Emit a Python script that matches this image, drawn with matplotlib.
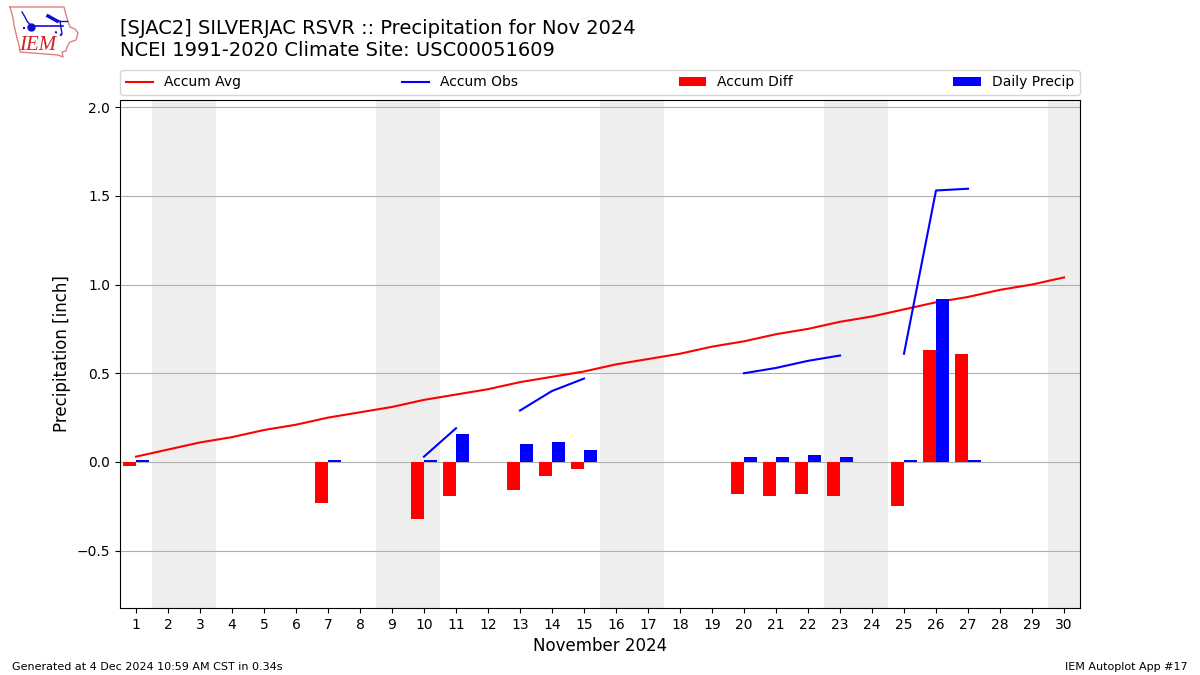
import numpy as np
import matplotlib
matplotlib.use('Agg')
import matplotlib.pyplot as plt

days = np.arange(1, 31)
avg_accum = [0.03, 0.07, 0.11, 0.14, 0.18, 0.21, 0.25, 0.28, 0.31, 0.35,
             0.38, 0.41, 0.45, 0.48, 0.51, 0.55, 0.58, 0.61, 0.65, 0.68,
             0.72, 0.75, 0.79, 0.82, 0.86, 0.90, 0.93, 0.97, 1.00, 1.04]
# obs line has gaps on the dry days
nan = np.nan
obs_accum = [nan, nan, nan, nan, nan, nan, nan, nan, nan, 0.03,
             0.19, nan, 0.29, 0.40, 0.47, nan, nan, nan, nan, 0.50,
             0.53, 0.57, 0.60, nan, 0.61, 1.53, 1.54, nan, nan, nan]
accum_diff = [-0.02, 0, 0, 0, 0, 0, -0.23, 0, 0, -0.32,
              -0.19, 0, -0.16, -0.08, -0.04, 0, 0, 0, 0, -0.18,
              -0.19, -0.18, -0.19, 0, -0.25, 0.63, 0.61, 0, 0, 0]
daily_precip = [0.01, 0, 0, 0, 0, 0, 0.01, 0, 0, 0.01,
                0.16, 0, 0.10, 0.11, 0.07, 0, 0, 0, 0, 0.03,
                0.03, 0.04, 0.03, 0, 0.01, 0.92, 0.01, 0, 0, 0]
weekends = [(1.5, 3.5), (8.5, 10.5), (15.5, 17.5), (22.5, 24.5), (29.5, 30.5)]

W, H = 1200, 675
fig = plt.figure(figsize=(12, 6.75), dpi=100)
ax = fig.add_axes([120 / W, 1 - 608 / H, 960 / W, 508 / H])

for start, end in weekends:
    ax.axvspan(start, end, color='#eeeeee', lw=0, zorder=0)

ax.plot(days, avg_accum, color='r', label='Accum Avg', zorder=2)
ax.plot(days, obs_accum, color='b', label='Accum Obs', zorder=2)
ax.bar(days, accum_diff, width=-0.4, align='edge', color='r', label='Accum Diff', zorder=3)
ax.bar(days, daily_precip, width=0.4, align='edge', color='b', label='Daily Precip', zorder=3)

ax.set_xlim(0.5, 30.5)
ax.set_ylim(-0.823, 2.04)
ax.set_xticks(days)
ax.set_yticks([-0.5, 0, 0.5, 1.0, 1.5, 2.0])
ax.grid(axis='y', color='#b0b0b0')
ax.set_xlabel('November 2024', fontsize=12)
ax.set_ylabel('Precipitation [inch]', fontsize=12)
ax.legend(loc='lower left', bbox_to_anchor=(0, 1.0098, 1, 0.05), ncol=4, mode='expand',
          borderaxespad=0, fontsize=10)

fig.text(120 / W, 1 - 29 / H, '[SJAC2] SILVERJAC RSVR :: Precipitation for Nov 2024',
         fontsize=14, va='center')
fig.text(120 / W, 1 - 50.5 / H, 'NCEI 1991-2020 Climate Site: USC00051609',
         fontsize=14, va='center')
fig.text(12 / W, 1 - 666.5 / H, 'Generated at 4 Dec 2024 10:59 AM CST in 0.34s',
         fontsize=8, va='center')
fig.text(1188 / W, 1 - 666.5 / H, 'IEM Autoplot App #17',
         fontsize=8, va='center', ha='right')

# logo, drawn in pixel coords
logo = fig.add_axes([0, 1 - 60 / H, 85 / W, 60 / H])
logo.set_xlim(0, 85)
logo.set_ylim(60, 0)
logo.axis('off')
logo.plot([10, 64, 66, 70, 75, 78, 76, 70, 67, 66, 62, 63, 58, 20, 19, 17, 14, 13, 10],
          [7, 7, 15, 27, 29, 33, 40, 42, 47, 51, 52, 57, 55, 52, 45, 38, 25, 18, 7],
          color='#e08080', lw=1)
logo.plot([31, 63], [26, 26], color='#1010d0', lw=1.2)
logo.plot([57, 67], [21, 21], color='#1010d0', lw=1)
logo.plot([60, 62], [21, 34], color='#1010d0', lw=1)
logo.plot([48, 57], [16, 21], color='#1010d0', lw=2.5)
logo.plot([22, 25, 27, 31], [12, 17, 21, 26], color='#1010d0', lw=1)
logo.plot([31], [26.5], 'o', color='#1010d0', ms=5)
logo.plot([23, 27], [28, 28], ':', color='#1010d0', lw=1.5)
logo.plot([55, 58, 61, 64], [32, 33, 35, 36], ':', color='#1010d0', lw=1.5)
logo.text(37.5, 45.5, 'IEM', color='#d02020', fontsize=15, style='italic',
          family='Liberation Serif', ha='center', va='center')

fig.savefig('out.png', dpi=100)
